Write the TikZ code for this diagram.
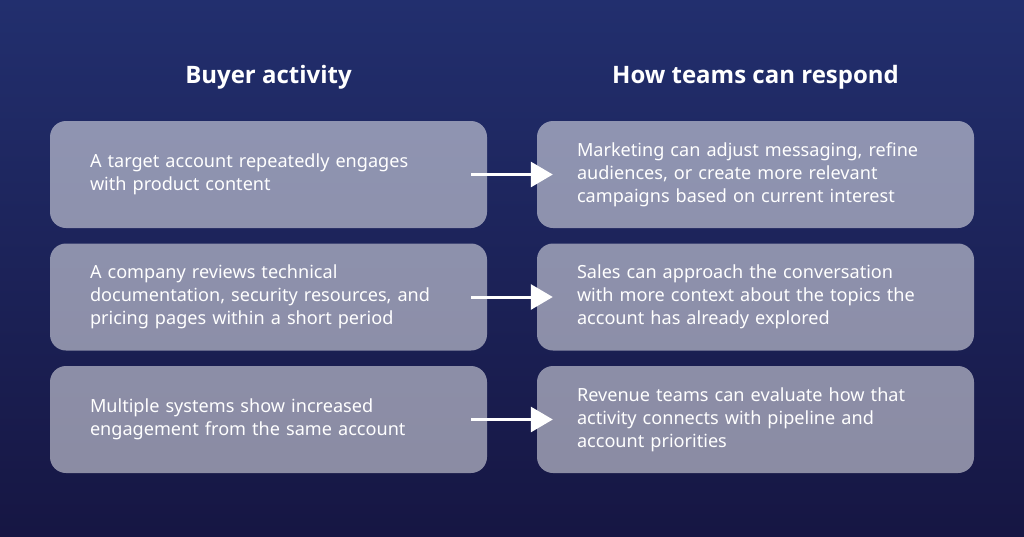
\documentclass[tikz,border=0pt]{standalone}
\usepackage{fontspec}
\setmainfont{Noto Sans}
\newfontfamily\headfont{Open Sans}
\usetikzlibrary{arrows.meta}
\definecolor{navytop}{HTML}{222F6E}
\definecolor{navybot}{HTML}{161643}
\tikzset{
  card/.style={fill=white, fill opacity=0.5, text opacity=1, text=white,
    rounded corners=16pt, minimum width=437pt, minimum height=107pt,
    text width=357pt, inner xsep=40pt, align=left,
    font=\fontsize{18.1}{23}\selectfont},
  heading/.style={text=white, font=\headfont\fontsize{24}{28}\selectfont\bfseries},
  flow/.style={white, line width=3pt, -{Triangle[length=22pt,width=25pt]}}
}
\begin{document}
\begin{tikzpicture}[x=1pt,y=-1pt]
    \shade[top color=navytop, bottom color=navybot] (0,0) rectangle (1024,536);
    \useasboundingbox (0,0) rectangle (1024,536);
    \node[heading] (buyer) at (268.5,77) {Buyer activity};
    \node[heading] (teams) at (755.5,77) {How teams can respond};
    \node[card] (act1) at (268.5,174.5) {A target account repeatedly engages\\with product content};
    \node[card] (act2) at (268.5,297) {A company reviews technical\\documentation, security resources, and\\pricing pages within a short period};
    \node[card] (act3) at (268.5,419.5) {Multiple systems show increased\\engagement from the same account};
    \node[card] (resp1) at (755.5,174.5) {Marketing can adjust messaging, refine\\audiences, or create more relevant\\campaigns based on current interest};
    \node[card] (resp2) at (755.5,297) {Sales can approach the conversation\\with more context about the topics the\\account has already explored};
    \node[card] (resp3) at (755.5,419.5) {Revenue teams can evaluate how that\\activity connects with pipeline and\\account priorities};
    \draw[flow] ([xshift=-16pt]act1.east) -- ([xshift=16pt]resp1.west);
    \draw[flow] ([xshift=-16pt]act2.east) -- ([xshift=16pt]resp2.west);
    \draw[flow] ([xshift=-16pt]act3.east) -- ([xshift=16pt]resp3.west);
\end{tikzpicture}
\end{document}
